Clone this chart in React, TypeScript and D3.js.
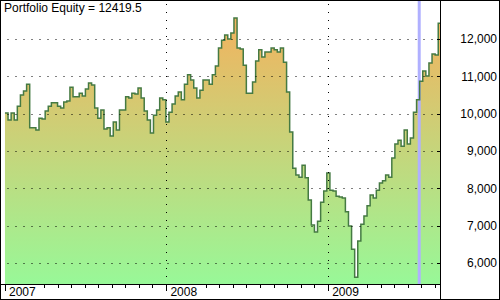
import React from 'react';
import * as d3 from 'd3';

// ---- data ----
const startDate = '2007-01-02';
const domainStart = '2007-01-01';
const domainEnd = '2009-09-12';
const markerDate = '2009-07-27';
const equity: number[] = [
  10020, 9830, 10020, 9830, 10200, 10500, 10610, 10790, 9620, 9620,
  9560, 9880, 9860, 10070, 10200, 10290, 10290, 10200, 10150, 10310,
  10340, 10710, 10450, 10450, 10550, 10470, 10660, 10820, 10770, 10150,
  9880, 10100, 9590, 9620, 9400, 9780, 9560, 10100, 10100, 10450,
  10420, 10550, 10530, 10690, 10420, 10070, 9830, 9480, 9960, 10100,
  10420, 10370, 9780, 10040, 10260, 10470, 10580, 10370, 10790, 11040,
  10900, 10690, 10420, 10630, 10900, 10900, 10790, 11040, 11280, 11760,
  11970, 12110, 12000, 12160, 12560, 11760, 11730, 11300, 10550, 10550,
  10850, 11410, 11710, 11520, 11650, 11650, 11760, 11710, 11650, 11760,
  11380, 10580, 9510, 8540, 8360, 8300, 8620, 8280, 7690, 7020,
  6830, 7120, 7630, 7930, 8410, 7950, 7930, 7790, 7770, 7740,
  7370, 6990, 6370, 5620, 6590, 7040, 7260, 7530, 7820, 7740,
  7950, 8140, 8200, 8360, 8300, 8810, 9190, 9290, 9130, 9560,
  9190, 9350, 10040, 10370, 10870, 11140, 11010, 11360, 11600, 11570,
  12419.5,
];
const yTicks = [6000, 7000, 8000, 9000, 10000, 11000, 12000];
const yDomain = [5437, 13045];
const titleLabel = 'Portfolio Equity';

// ---- layout ----
const W = 500;
const H = 300;
const PL = 4.5;
const PR = 440;
const PT = 0;
const PB = 284;
const FONT = '"Liberation Sans", Arial, sans-serif';

export default function App() {
  const parse = d3.timeParse('%Y-%m-%d');
  const start = parse(startDate) as Date;
  const d0 = parse(domainStart) as Date;
  const d1 = parse(domainEnd) as Date;
  const data = equity.map((v, i) => ({ date: d3.timeDay.offset(start, 7 * i), value: v }));
  const ext = [...data, { date: d1, value: data[data.length - 1].value }];

  const x = d3.scaleTime().domain([d0, d1]).range([PL, PR]);
  const y = d3.scaleLinear().domain(yDomain).range([PB, PT]);

  const area = d3
    .area<{ date: Date; value: number }>()
    .x((d) => x(d.date))
    .y0(PB)
    .y1((d) => y(d.value))
    .curve(d3.curveStepAfter);
  const line = d3
    .line<{ date: Date; value: number }>()
    .x((d) => x(d.date))
    .y((d) => y(d.value))
    .curve(d3.curveStepAfter);

  const months = d3.timeMonth.range(d0, d1);
  const yearTicks = months.filter((m) => m.getMonth() === 0);
  const monthTicks = months.filter((m) => m.getMonth() > 2);
  const fmt = d3.format(',');
  const mx = x(parse(markerDate) as Date);
  const last = equity[equity.length - 1];

  return (
    <svg
      width={W}
      height={H}
      style={{ position: 'fixed', left: 0, top: 0, background: '#fff' }}
      fontFamily={FONT}
    >
      <defs>
        <linearGradient id="eqfill" gradientUnits="userSpaceOnUse" x1={0} x2={0} y1={y(12600)} y2={PB}>
          <stop offset="0%" stopColor="#f3b25e" />
          <stop offset="100%" stopColor="#98f898" />
        </linearGradient>
        <clipPath id="plotclip">
          <rect x={PL} y={PT} width={PR - PL} height={PB - PT} />
        </clipPath>
      </defs>
      <rect x={0} y={0} width={W} height={H} fill="#fff" />
      <g clipPath="url(#plotclip)">
        <path d={area(ext) || ''} fill="url(#eqfill)" />
        <line x1={mx} x2={mx} y1={PT} y2={PB} stroke="#b0b0ff" strokeWidth={3} />
        <path d={line(ext) || ''} fill="none" stroke="#457a43" strokeWidth={1.5} />
      </g>
      {/* grid */}
      {yTicks.map((t) => (
        <line
          key={'gy' + t}
          x1={PL + 3}
          x2={PR}
          y1={Math.round(y(t)) + 0.5}
          y2={Math.round(y(t)) + 0.5}
          stroke="#000"
          strokeWidth={1}
          strokeDasharray="1,7"
        />
      ))}
      {yearTicks.slice(1).map((t) => (
        <line
          key={'gx' + t.getTime()}
          x1={Math.round(x(t)) + 0.5}
          x2={Math.round(x(t)) + 0.5}
          y1={PT + 4}
          y2={PB}
          stroke="#000"
          strokeWidth={1}
          strokeDasharray="1,7"
        />
      ))}
      {/* right axis ticks and labels */}
      {yTicks.map((t) => (
        <g key={'ty' + t}>
          <line x1={PR - 3} x2={PR} y1={Math.round(y(t)) + 0.5} y2={Math.round(y(t)) + 0.5} stroke="#000" />
          <text x={497} y={y(t) + 4.3} fontSize={12} textAnchor="end" fill="#000">
            {fmt(t)}
          </text>
        </g>
      ))}
      {/* bottom axis */}
      <line x1={0} x2={PR} y1={PB + 0.5} y2={PB + 0.5} stroke="#000" />
      {monthTicks.map((m) => (
        <line
          key={'mt' + m.getTime()}
          x1={Math.round(x(m)) + 0.5}
          x2={Math.round(x(m)) + 0.5}
          y1={PB}
          y2={PB + 4}
          stroke="#000"
        />
      ))}
      {yearTicks.map((m) => (
        <g key={'yt' + m.getTime()}>
          <line
            x1={Math.round(x(m)) + 0.5}
            x2={Math.round(x(m)) + 0.5}
            y1={PB}
            y2={PB + 7}
            stroke="#000"
          />
          <text x={x(m) + 4.5} y={296} fontSize={12} fill="#000">
            {d3.timeFormat('%Y')(m)}
          </text>
        </g>
      ))}
      {/* frame */}
      <line x1={PR + 0.5} x2={PR + 0.5} y1={0} y2={H} stroke="#000" />
      <rect x={0.5} y={0.5} width={W - 1} height={H - 1} fill="none" stroke="#000" />
      <text x={4} y={11.5} fontSize={12} fill="#000">
        {titleLabel + ' = ' + last}
      </text>
    </svg>
  );
}
